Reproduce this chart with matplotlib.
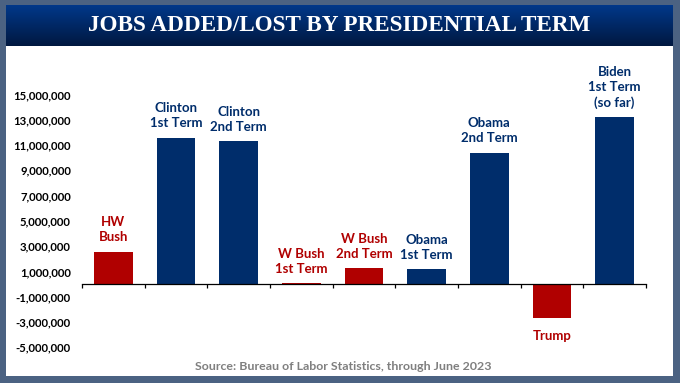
import matplotlib.pyplot as plt
import matplotlib.patches as mpatches
import numpy as np
from matplotlib.ticker import FuncFormatter

plt.rcParams["font.family"] = ["Lato", "DejaVu Sans"]

# data
terms = ["HW\nBush", "Clinton\n1st Term", "Clinton\n2nd Term", "W Bush\n1st Term",
         "W Bush\n2nd Term", "Obama\n1st Term", "Obama\n2nd Term", "Trump",
         "Biden\n1st Term\n(so far)"]
jobs = [2_560_000, 11_580_000, 11_320_000, 80_000, 1_270_000, 1_190_000,
        10_400_000, -2_690_000, 13_220_000]
party = ["R", "D", "D", "R", "R", "D", "D", "R", "D"]
yticks = list(range(-5_000_000, 15_000_001, 2_000_000))

RED = "#b00000"
NAVY = "#002d6b"
BORDER = "#4b6282"
W, H = 680, 383

fig = plt.figure(figsize=(W / 100, H / 100), dpi=100)
fig.patch.set_facecolor(BORDER)

# white panel
fig.add_artist(mpatches.Rectangle((6 / W, 1 - 376 / H), 667 / W, 331 / H,
                                  transform=fig.transFigure, facecolor="white",
                                  edgecolor="none", zorder=0))

# title band with gradient
tax = fig.add_axes([6 / W, 1 - 46 / H, 667 / W, 41 / H])
grad = np.linspace(0, 1, 100).reshape(-1, 1)
top = np.array([0x00, 0x38, 0x8a]) / 255
bot = np.array([0x00, 0x18, 0x40]) / 255
img = top + (bot - top) * grad[:, :, None]
tax.imshow(img, aspect="auto", extent=[0, 1, 0, 1])
tax.set_xlim(0, 1)
tax.set_ylim(0, 1)
tax.axis("off")
tax.text(0.5, 0.5, "JOBS ADDED/LOST BY PRESIDENTIAL TERM", color="white",
         fontsize=16.7, fontweight="bold", family="Liberation Serif",
         ha="center", va="center")

# main axes: x from 82 to 646 px, y pixel 80..360
ax = fig.add_axes([82 / W, 1 - 360 / H, 564 / W, 280 / H])
ax.set_facecolor("none")
px_per_unit = 12.63 / 1_000_000
ax.set_ylim(-(360 - 284) / px_per_unit, (284 - 80) / px_per_unit)
ax.set_xlim(-0.5, len(terms) - 0.5)

x = np.arange(len(terms))
colors = [RED if p == "R" else NAVY for p in party]
ax.bar(x, jobs, width=0.62, color=colors, zorder=2)

for i, (lab, v, c) in enumerate(zip(terms, jobs, colors)):
    if v >= 0:
        ax.annotate(lab, (i, v), xytext=(0, 6), textcoords="offset points",
                    ha="center", va="bottom", fontsize=9.5, fontweight="bold",
                    color=c, linespacing=1.3)
    else:
        ax.annotate(lab, (i, v), xytext=(0, -9), textcoords="offset points",
                    ha="center", va="top", fontsize=9.5, fontweight="bold",
                    color=c, linespacing=1.3)

for s in ["top", "right", "left"]:
    ax.spines[s].set_visible(False)
ax.spines["bottom"].set_position(("data", 0))
ax.spines["bottom"].set_color("black")
ax.spines["bottom"].set_linewidth(0.9)
ax.set_xticks(np.arange(-0.5, len(terms), 1.0))
ax.set_xticklabels([])
ax.tick_params(axis="x", direction="out", length=3, width=0.9, color="black")

ax.set_yticks(yticks)
ax.yaxis.set_major_formatter(FuncFormatter(lambda v, p: f"{int(v):,}"))
ax.tick_params(axis="y", length=0, pad=8, labelsize=8.2)
for t in ax.get_yticklabels():
    t.set_fontweight("bold")

fig.text(343 / W, 1 - 366 / H, "Source: Bureau of Labor Statistics, through June 2023",
         ha="center", va="center", fontsize=8.9, fontweight="bold", color="#7f7f7f")

fig.savefig("out.png", dpi=100, facecolor=fig.get_facecolor())
